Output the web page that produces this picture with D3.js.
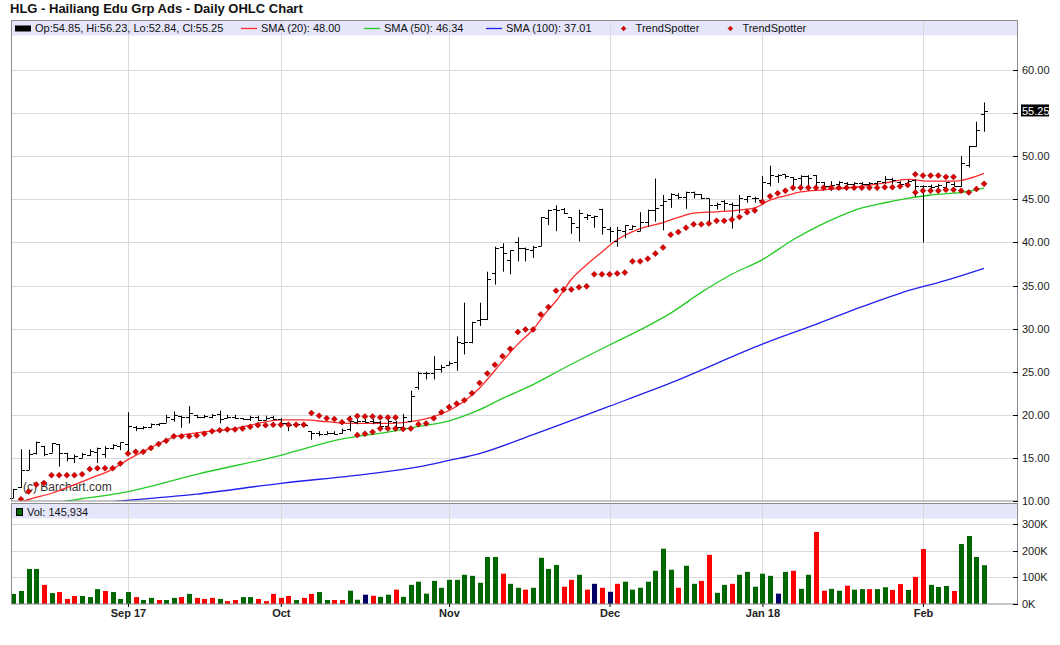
<!DOCTYPE html>
<html lang="en">
<head>
<meta charset="UTF-8">
<title>HLG - Daily OHLC Chart</title>
<script src="https://cdn.jsdelivr.net/npm/d3@7"></script>
<style>
  body { margin: 0; background: #fff; }
  text { font-family: "Liberation Sans", Arial, sans-serif; }
</style>
</head>
<body>
<div id="chart"></div>
<script>
// trading days shown on the chart
var dates = [
  "2017-08-11","2017-08-14","2017-08-15","2017-08-16","2017-08-17","2017-08-18","2017-08-21","2017-08-22","2017-08-23","2017-08-24",
  "2017-08-25","2017-08-28","2017-08-29","2017-08-30","2017-08-31","2017-09-01","2017-09-05","2017-09-06","2017-09-07","2017-09-08",
  "2017-09-11","2017-09-12","2017-09-13","2017-09-14","2017-09-15","2017-09-18","2017-09-19","2017-09-20","2017-09-21","2017-09-22",
  "2017-09-25","2017-09-26","2017-09-27","2017-09-28","2017-09-29","2017-10-02","2017-10-03","2017-10-04","2017-10-05","2017-10-06",
  "2017-10-09","2017-10-10","2017-10-11","2017-10-12","2017-10-13","2017-10-16","2017-10-17","2017-10-18","2017-10-19","2017-10-20",
  "2017-10-23","2017-10-24","2017-10-25","2017-10-26","2017-10-27","2017-10-30","2017-10-31","2017-11-01","2017-11-02","2017-11-03",
  "2017-11-06","2017-11-07","2017-11-08","2017-11-09","2017-11-10","2017-11-13","2017-11-14","2017-11-15","2017-11-16","2017-11-17",
  "2017-11-20","2017-11-21","2017-11-22","2017-11-24","2017-11-27","2017-11-28","2017-11-29","2017-11-30","2017-12-01","2017-12-04",
  "2017-12-05","2017-12-06","2017-12-07","2017-12-08","2017-12-11","2017-12-12","2017-12-13","2017-12-14","2017-12-15","2017-12-18",
  "2017-12-19","2017-12-20","2017-12-21","2017-12-22","2017-12-26","2017-12-27","2017-12-28","2017-12-29","2018-01-02","2018-01-03",
  "2018-01-04","2018-01-05","2018-01-08","2018-01-09","2018-01-10","2018-01-11","2018-01-12","2018-01-16","2018-01-17","2018-01-18",
  "2018-01-19","2018-01-22","2018-01-23","2018-01-24","2018-01-25","2018-01-26","2018-01-29","2018-01-30","2018-01-31","2018-02-01",
  "2018-02-02","2018-02-05","2018-02-06","2018-02-07","2018-02-08","2018-02-09","2018-02-12","2018-02-13"
];

var opens = [
  10.4,11.6,13.65,15.6,16.4,15.6,16.6,15.6,15.0,15.0, 15.3,15.7,15.5,16.1,16.4,16.6,18.6,18.5,18.6,18.9,
  19.1,19.5,19.9,19.7,20.0,19.7,19.8,20.1,19.6,19.8, 19.6,19.5,19.8,19.4,19.8,19.5,19.0,18.9,18.9,18.1,
  17.9,17.8,17.9,17.9,18.3,19.2,19.3,19.3,19.2,18.7, 19.2,18.6,19.3,23.2,24.8,24.8,25.3,25.8,26.1,28.3,
  28.5,31.0,31.1,36.5,39.5,38.0,40.1,39.4,39.1,39.6, 42.8,43.9,43.9,42.9,41.8,43.0,43.0,43.9,41.5,40.2,
  41.3,41.6,41.3,42.4,43.8,44.3,45.0,45.5,45.3,45.8, 45.6,45.1,44.3,44.8,44.5,44.3,45.0,45.1,44.9,46.9,
  47.7,47.9,47.6,47.5,47.7,47.8,47.0,46.6,46.8,46.9, 46.8,46.9,46.8,46.9,47.0,47.4,47.0,46.9,47.2,46.6,
  46.6,46.5,46.4,46.8,46.6,49.0,51.2,54.85
];
var highs = [
  11.4,16.0,15.96,16.9,16.4,16.7,16.6,15.6,15.4,15.6, 16.0,16.2,16.35,16.6,16.8,20.3,18.7,18.7,19.0,19.0,
  20.0,20.4,19.9,21.0,20.0,20.0,20.1,20.5,20.0,20.0, 19.6,19.9,19.9,19.9,19.9,19.6,19.0,19.0,19.0,18.1,
  18.1,18.1,18.1,18.4,19.9,19.5,19.5,19.5,19.3,19.9, 19.3,20.1,22.8,25.0,25.0,26.8,25.8,26.2,29.1,33.0,
  30.8,33.0,36.6,39.5,39.9,39.1,40.6,39.4,39.6,42.9, 43.8,44.3,44.0,42.9,43.8,43.3,43.1,43.9,41.8,41.8,
  42.0,42.0,43.5,43.8,47.4,45.5,45.7,45.7,45.9,45.9, 45.6,45.1,44.6,44.9,44.6,45.5,45.4,45.3,47.7,48.9,
  47.9,47.9,47.6,47.8,47.8,47.8,47.0,47.1,47.1,47.0, 47.0,47.0,47.0,47.1,47.7,47.5,47.1,47.3,47.3,46.6,
  46.7,46.8,47.0,47.0,50.0,51.2,54.0,56.23
];
var lows = [
  10.35,11.5,13.6,15.4,15.2,15.6,14.0,14.6,14.4,15.0, 15.2,14.4,15.0,16.0,15.9,15.4,18.1,18.3,18.5,18.7,
  19.1,19.2,18.5,19.0,19.6,19.6,19.6,19.0,19.6,19.5, 19.4,19.3,19.3,19.4,19.4,18.7,18.1,18.7,18.7,17.1,
  17.5,17.7,17.7,17.8,18.1,18.9,19.1,18.9,18.3,18.3, 18.3,18.5,19.2,22.9,24.1,24.1,24.9,25.7,25.1,27.0,
  28.3,30.3,31.0,35.1,36.6,36.3,37.8,37.8,38.2,39.6, 42.0,41.3,43.3,41.0,40.1,42.6,41.7,40.9,40.0,39.5,
  40.5,41.5,41.3,41.8,42.4,41.4,44.0,45.0,43.9,45.1, 45.0,42.2,43.8,43.7,41.6,43.4,44.6,44.6,44.6,46.5,
  46.9,47.4,46.3,46.2,46.4,46.5,46.2,46.0,46.4,46.6, 46.5,46.6,46.5,46.5,46.8,46.8,46.5,46.5,45.3,40.0,
  46.0,46.1,45.9,46.5,46.5,48.7,51.1,52.84
];
var closes = [
  11.4,13.6,15.5,16.8,15.4,16.7,15.6,15.0,15.2,15.5, 15.8,16.1,16.2,16.5,16.8,18.65,18.5,18.6,18.9,19.0,
  19.7,20.0,19.7,20.2,19.7,19.9,20.0,19.5,19.7,19.6, 19.5,19.8,19.4,19.6,19.5,19.0,18.8,18.9,18.8,17.9,
  17.8,17.9,17.8,18.2,19.3,19.3,19.2,19.2,18.7,19.3, 18.6,19.7,22.2,24.9,24.8,25.3,25.6,26.0,28.4,28.5,
  30.8,31.1,35.7,39.4,38.8,39.1,39.3,39.2,39.5,42.9, 43.8,43.8,43.4,42.2,43.4,43.2,43.1,41.8,41.3,41.4,
  42.0,41.9,42.4,43.8,44.0,44.8,45.6,45.3,45.8,45.6, 45.1,44.3,44.5,44.6,44.3,45.2,45.4,45.2,47.0,47.8,
  47.8,47.7,47.3,47.7,47.5,47.0,46.5,46.7,47.0,46.8, 46.9,46.8,46.9,47.1,47.4,47.2,46.8,47.1,46.6,46.5,
  46.4,46.7,47.0,46.6,49.2,51.2,53.0,55.25
];

// volume in thousands, and bar colour code (g up, r down, b unchanged)
var volumes = [
  38,49,132,132,72,41,45,19,30,30, 26,56,49,45,19,45,26,15,23,15,
  15,23,26,38,23,19,23,19,11,15, 26,26,19,11,38,23,30,15,23,38,
  45,15,15,15,50,16,35,31,27,35, 54,27,72,84,39,87,61,91,91,110,
  106,80,177,177,114,76,61,54,61,174, 132,147,65,91,110,54,76,61,46,76,
  84,54,61,84,125,208,129,61,144,76, 87,185,42,72,76,110,121,65,114,106,
  39,121,125,57,110,271,50,57,50,69, 54,56,56,56,63,53,75,53,102,207,
  72,64,68,49,226,256,177,146
];
var volDir = [
  "g","g","g","g","r","g","r","r","r","g", "g","g","r","g","g","g","r","g","g","r",
  "g","g","r","g","r","r","r","g","r","r", "g","g","r","r","r","r","r","g","r","r",
  "g","g","r","r","g","g","b","r","g","g", "r","g","g","g","g","g","g","g","g","g",
  "g","g","g","g","r","g","g","r","g","g", "g","g","r","r","g","r","b","r","b","r",
  "g","g","g","g","g","g","g","r","g","g", "r","r","g","g","r","g","g","g","g","g",
  "b","g","r","g","g","r","r","g","g","r", "g","g","r","g","g","r","r","g","r","r",
  "g","g","g","r","g","g","g","g"
];

// TrendSpotter dots under the bars (null = none that day)
var tsBuy = [
  null,10.2,11.1,11.9,12.1,13.0,13.0,13.0,13.0,13.1, 13.7,13.8,13.8,13.8,14.35,15.5,15.7,15.7,16.15,16.6,
  17.0,17.5,17.5,17.5,17.6,17.8,18.1,18.2,18.3,18.3, 18.4,18.6,18.8,18.8,18.85,18.85,18.85,18.85,18.85,null,
  null,null,null,null,null,17.65,17.8,18.0,18.4,18.4, 18.4,18.35,18.4,18.9,19.0,19.6,20.3,20.9,21.3,21.7,
  22.5,23.7,24.8,25.8,26.8,27.65,29.6,29.9,29.9,31.65, 32.5,34.4,34.55,34.55,34.8,34.9,36.3,36.3,36.3,36.4,
  36.5,37.8,37.8,38.1,38.7,39.4,40.9,41.2,41.7,42.1, 42.1,42.2,42.5,42.5,42.65,42.96,43.5,43.7,44.7,45.35,
  45.7,46.0,46.35,46.35,46.35,46.35,46.35,46.35,46.35,46.35, 46.35,46.35,46.35,46.35,46.4,46.4,46.5,46.65,45.8,46.0,
  46.0,46.0,46.1,46.1,46.0,45.8,46.2,46.8
];
// TrendSpotter dots above the bars
var tsSell = [
  ["2017-10-06",20.2],["2017-10-09",19.9],["2017-10-10",19.6],["2017-10-11",19.5],["2017-10-12",19.15],
  ["2017-10-13",19.5],["2017-10-16",19.85],["2017-10-17",19.8],["2017-10-18",19.8],["2017-10-19",19.7],
  ["2017-10-20",19.7],["2017-10-23",19.7],
  ["2018-01-31",47.9],["2018-02-01",47.75],["2018-02-02",47.75],["2018-02-05",47.75],["2018-02-06",47.6],["2018-02-07",47.6]
];

// moving averages
var sma20 = [
  ["2017-08-11",9.3],["2017-08-14",9.8],["2017-08-18",10.9],["2017-08-25",12.6],["2017-08-30",13.7],["2017-09-01",14.8],
  ["2017-09-07",16.2],["2017-09-12",17.4],["2017-09-15",17.9],["2017-09-22",18.4],["2017-09-27",19.0],["2017-10-02",19.4],
  ["2017-10-05",19.4],["2017-10-10",19.2],["2017-10-13",19.0],["2017-10-19",19.0],["2017-10-24",19.1],["2017-10-26",19.35],
  ["2017-10-30",19.8],["2017-11-01",20.5],["2017-11-02",21.0],["2017-11-06",22.3],["2017-11-07",23.1],["2017-11-08",24.1],
  ["2017-11-10",26.2],["2017-11-14",28.2],["2017-11-16",29.9],["2017-11-20",32.2],["2017-11-21",33.2],["2017-11-24",35.7],
  ["2017-11-28",37.4],["2017-11-30",38.9],["2017-12-04",40.3],["2017-12-07",41.6],["2017-12-12",42.3],["2017-12-14",42.9],
  ["2017-12-18",43.4],["2017-12-21",43.55],["2017-12-27",43.75],["2017-12-29",44.0],["2018-01-03",44.9],["2018-01-05",45.4],
  ["2018-01-09",45.85],["2018-01-12",46.1],["2018-01-19",46.4],["2018-01-25",46.9],["2018-01-30",47.3],["2018-02-02",47.1],
  ["2018-02-07",47.1],["2018-02-09",47.4],["2018-02-13",48.0]
];
var sma50 = [
  ["2017-08-11",8.9],["2017-08-22",10.0],["2017-09-01",11.1],["2017-09-15",13.1],["2017-10-02",15.3],["2017-10-12",17.2],
  ["2017-10-20",18.0],["2017-10-26",18.65],["2017-11-01",19.3],["2017-11-07",20.6],["2017-11-10",21.9],["2017-11-16",23.5],
  ["2017-11-22",25.4],["2017-12-01",28.1],["2017-12-07",29.85],["2017-12-13",31.8],["2017-12-19",34.2],["2017-12-26",36.3],
  ["2018-01-02",38.0],["2018-01-08",40.3],["2018-01-17",43.0],["2018-01-22",44.0],
  ["2018-01-25",44.6],["2018-01-30",45.1],["2018-02-02",45.5],["2018-02-08",45.8],["2018-02-13",46.3]
];
var sma100 = [
  ["2017-08-11",8.7],["2017-08-29",9.85],["2017-09-15",10.8],["2017-10-02",12.05],["2017-10-17",13.1],["2017-10-26",13.95],
  ["2017-11-01",14.7],["2017-11-07",15.5],["2017-11-16",17.7],["2017-12-01",21.0],["2017-12-13",23.7],["2018-01-02",28.2],
  ["2018-01-11",30.5],["2018-01-19",32.2],["2018-01-29",34.1],["2018-02-06",35.6],["2018-02-13",37.0]
];

var priceTicks = [10,15,20,25,30,35,40,45,50,55,60];
var volTicks = [0,100,200,300];
var monthTicks = [
  ["2017-09-01","Sep 17"],["2017-10-02","Oct"],["2017-11-01","Nov"],
  ["2017-12-01","Dec"],["2018-01-02","Jan 18"],["2018-02-01","Feb"]
];

var titleText = "HLG - Hailiang Edu Grp Ads - Daily OHLC Chart";
var ohlcLabel = "Op:54.85, Hi:56.23, Lo:52.84, Cl:55.25";
var smaLabels = ["SMA (20): 48.00", "SMA (50): 46.34", "SMA (100): 37.01"];
var volLabel = "Vol: 145,934";
var lastPrice = 55.25;

// layout
var width = 1060, height = 645;
var left = 11, right = 1018;
var pTop = 21, pBot = 501;
var vTop = 504, vBot = 604;
var gridColor = "#d9d9d9";
var smaColors = ["#ff2a2a", "#22cc22", "#2020ee"];
var volColors = {g: "#006600", r: "#ff0000", b: "#000066"};

var svg = d3.select("#chart").append("svg")
  .attr("width", width)
  .attr("height", height);

var x = d3.scalePoint().domain(dates).range([13.3, 984.1]);
var y = d3.scaleLinear().domain([10, 60]).range([pBot, 70]);
var yv = d3.scaleLinear().domain([0, 300]).range([vBot, 524.3]);

function cx(d) { return Math.round(x(d)) + 0.5; }

svg.append("text")
  .attr("x", 10).attr("y", 13)
  .style("font-size", "13px").style("font-weight", "bold").attr("fill", "#111")
  .text(titleText);

// panel bands and grids
[[pTop, pBot], [vTop, vBot]].forEach(function(p) {
  svg.append("rect")
    .attr("x", left).attr("y", p[0])
    .attr("width", right - left).attr("height", 14.5)
    .attr("fill", "#e6e6fa");
  svg.append("g").selectAll("line")
    .data(monthTicks).enter().append("line")
    .attr("x1", function(d) { return cx(d[0]); })
    .attr("x2", function(d) { return cx(d[0]); })
    .attr("y1", p[0]).attr("y2", p[1])
    .attr("stroke", gridColor);
});

svg.append("g").selectAll("line")
  .data(priceTicks.slice(1)).enter().append("line")
  .attr("x1", left).attr("x2", right)
  .attr("y1", function(d) { return Math.round(y(d)) + 0.5; })
  .attr("y2", function(d) { return Math.round(y(d)) + 0.5; })
  .attr("stroke", gridColor);

svg.append("g").selectAll("line")
  .data(volTicks.slice(1)).enter().append("line")
  .attr("x1", left).attr("x2", right)
  .attr("y1", function(d) { return Math.round(yv(d)) + 0.5; })
  .attr("y2", function(d) { return Math.round(yv(d)) + 0.5; })
  .attr("stroke", gridColor);

svg.append("clipPath").attr("id", "pclip")
  .append("rect").attr("x", left).attr("y", pTop + 14)
  .attr("width", right - left).attr("height", pBot - pTop - 14);

svg.append("text")
  .attr("x", 23).attr("y", 491)
  .style("font-size", "12px").attr("fill", "#333")
  .text("(c) Barchart.com");

// moving averages
var smaLine = d3.line()
  .x(function(d) { return x(d[0]); })
  .y(function(d) { return y(d[1]); })
  .curve(d3.curveMonotoneX);

var smaG = svg.append("g").attr("clip-path", "url(#pclip)");
[sma100, sma50, sma20].forEach(function(s, k) {
  smaG.append("path")
    .attr("d", smaLine(s))
    .attr("fill", "none")
    .attr("stroke", smaColors[2 - k])
    .attr("stroke-width", 1.3);
});

// OHLC bars
var bars = svg.append("g").attr("stroke", "#000").attr("stroke-width", 1);
dates.forEach(function(d, i) {
  var bx = cx(d);
  bars.append("line")
    .attr("x1", bx).attr("x2", bx)
    .attr("y1", y(highs[i])).attr("y2", y(lows[i]));
  bars.append("line")
    .attr("x1", bx - 3.5).attr("x2", bx)
    .attr("y1", Math.round(y(opens[i])) + 0.5).attr("y2", Math.round(y(opens[i])) + 0.5);
  bars.append("line")
    .attr("x1", bx).attr("x2", bx + 3.5)
    .attr("y1", Math.round(y(closes[i])) + 0.5).attr("y2", Math.round(y(closes[i])) + 0.5);
});

// TrendSpotter diamonds
var diamond = "M0,-3L3,0L0,3L-3,0Z";
var buyPts = dates.map(function(d, i) { return [d, tsBuy[i]]; })
  .filter(function(p) { return p[1] != null; });
svg.append("g").attr("clip-path", "url(#pclip)").selectAll("path")
  .data(buyPts.concat(tsSell)).enter().append("path")
  .attr("d", diamond)
  .attr("transform", function(p) { return "translate(" + x(p[0]) + "," + y(p[1]) + ")"; })
  .attr("fill", "#dd0000")
  .attr("stroke", "#880000")
  .attr("stroke-width", 0.5);

// volume bars
svg.append("g").selectAll("rect")
  .data(dates).enter().append("rect")
  .attr("x", function(d) { return Math.round(x(d)) - 2; })
  .attr("y", function(d, i) { return yv(volumes[i]); })
  .attr("width", 5)
  .attr("height", function(d, i) { return vBot - yv(volumes[i]); })
  .attr("fill", function(d, i) { return volColors[volDir[i]]; });

// panel frames
[[pTop, pBot], [vTop, vBot]].forEach(function(p) {
  svg.append("rect")
    .attr("x", left + 0.5).attr("y", p[0] - 0.5)
    .attr("width", right - left - 1).attr("height", p[1] - p[0] + 0.5)
    .attr("fill", "none").attr("stroke", "#8c8c8c");
});

// right axes; the last-price box takes the place of the nearest label
var priceLabels = priceTicks.filter(function(t) { return Math.abs(t - lastPrice) > 1.5; });
var pAxis = svg.append("g")
  .attr("transform", "translate(" + right + ",0)")
  .call(d3.axisRight(y).tickValues(priceLabels).tickSize(0).tickPadding(4)
    .tickFormat(function(d) { return d3.format(".2f")(d); }));
var vAxis = svg.append("g")
  .attr("transform", "translate(" + right + ",0)")
  .call(d3.axisRight(yv).tickValues(volTicks).tickSize(0).tickPadding(4)
    .tickFormat(function(d) { return d + "K"; }));
[pAxis, vAxis].forEach(function(a) {
  a.select(".domain").remove();
  a.selectAll("text").style("font-size", "11px")
    .style("font-family", "'Liberation Sans', Arial, sans-serif").attr("fill", "#222");
});
svg.append("g").selectAll("line")
  .data(priceTicks).enter().append("line")
  .attr("x1", right - 5).attr("x2", right)
  .attr("y1", function(d) { return Math.round(y(d)) + 0.5; })
  .attr("y2", function(d) { return Math.round(y(d)) + 0.5; })
  .attr("stroke", "#000");
svg.append("g").selectAll("line")
  .data(volTicks).enter().append("line")
  .attr("x1", right - 5).attr("x2", right)
  .attr("y1", function(d) { return Math.round(yv(d)) + 0.5; })
  .attr("y2", function(d) { return Math.round(yv(d)) + 0.5; })
  .attr("stroke", "#000");

// last price marker
svg.append("rect")
  .attr("x", right + 3).attr("y", y(lastPrice) - 6.5)
  .attr("width", 28).attr("height", 12)
  .attr("fill", "#000");
svg.append("text")
  .attr("x", right + 4).attr("y", y(lastPrice) + 4)
  .style("font-size", "11px").attr("fill", "#fff")
  .text(d3.format(".2f")(lastPrice));

// x axis
var xAxis = svg.append("g")
  .attr("transform", "translate(0," + vBot + ")")
  .call(d3.axisBottom(x)
    .tickValues(monthTicks.map(function(m) { return m[0]; }))
    .tickSize(3).tickPadding(2)
    .tickFormat(function(d) {
      return monthTicks.find(function(m) { return m[0] === d; })[1];
    }));
xAxis.select(".domain").remove();
xAxis.selectAll("text").style("font-size", "11px").style("font-weight", "bold")
  .style("font-family", "'Liberation Sans', Arial, sans-serif").attr("fill", "#222");

// legends
var lg = svg.append("g").style("font-size", "11px").attr("fill", "#111");
lg.append("rect").attr("x", 15).attr("y", 25.5).attr("width", 16).attr("height", 6).attr("fill", "#000");
lg.append("text").attr("x", 35).attr("y", 32).text(ohlcLabel);
[241, 364, 486].forEach(function(lx, k) {
  lg.append("line").attr("x1", lx).attr("x2", lx + 16).attr("y1", 28.5).attr("y2", 28.5)
    .attr("stroke", smaColors[k]).attr("stroke-width", 1.3);
  lg.append("text").attr("x", lx + 20).attr("y", 32).text(smaLabels[k]);
});
[623.6, 730.4].forEach(function(lx) {
  lg.append("path").attr("d", diamond)
    .attr("transform", "translate(" + lx + ",28.5) scale(0.8)")
    .attr("fill", "#dd0000").attr("stroke", "#880000").attr("stroke-width", 0.5);
  lg.append("text").attr("x", lx + 12).attr("y", 32).text("TrendSpotter");
});
lg.append("rect").attr("x", 16.5).attr("y", 508.5).attr("width", 6).attr("height", 7)
  .attr("fill", "#006600").attr("stroke", "#000");
lg.append("text").attr("x", 27).attr("y", 516).text(volLabel);
</script>
</body>
</html>
